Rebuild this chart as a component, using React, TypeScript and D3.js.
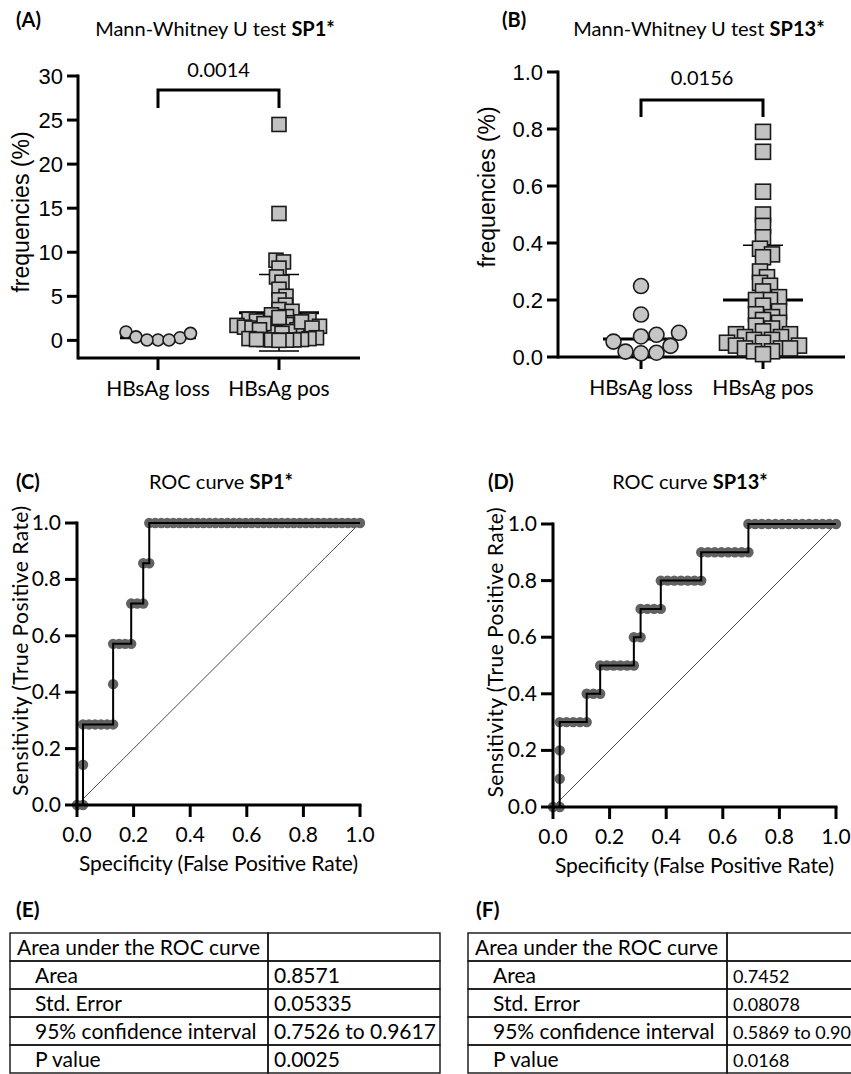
import React from 'react';
import * as d3 from 'd3';

// ---------------- DATA ----------------
const groupLabels = ['HBsAg loss', 'HBsAg pos'];

const sp1Loss = [0.05, 0.95, 0.3, 0.8, 0.05, 0.4, 0.05];
const sp1Pos = [
  24.5, 14.4, 9.1, 8.9, 8.2, 7.2, 6.6, 5.8, 5.0, 4.6,
  4.0, 3.5, 3.3, 2.9, 2.7, 2.4, 2.2, 2.0, 1.9, 1.8,
  1.7, 1.6, 1.5, 1.4, 1.3, 1.2, 1.1, 1.0, 0.9, 0.8,
  2.6, 2.3, 2.1, 1.9, 1.6, 1.4, 1.2, 0.3, 0.2, 0.2,
  0.1, 0.1, 0.1, 0.05, 0.05, 0.02, 0.0,
];
const sp13Loss = [0.085, 0.015, 0.054, 0.249, 0.149, 0.078, 0.019, 0.039, 0.072, 0.013];
const sp13Pos = [
  0.79, 0.72, 0.58, 0.5, 0.46, 0.42, 0.38, 0.36, 0.35, 0.3,
  0.28, 0.26, 0.25, 0.23, 0.21, 0.2, 0.2, 0.18, 0.16, 0.15,
  0.14, 0.13, 0.12, 0.11, 0.1, 0.09, 0.08, 0.08, 0.07, 0.07,
  0.06, 0.06, 0.05, 0.05, 0.04, 0.04, 0.03, 0.03, 0.03, 0.02,
  0.02, 0.01,
];
const sp1Ticks = [0, 5, 10, 15, 20, 25, 30];
const sp13Ticks = [0, 0.2, 0.4, 0.6, 0.8, 1.0];
const pValueA = '0.0014';
const pValueB = '0.0156';

const rocTicks = [0, 0.2, 0.4, 0.6, 0.8, 1.0];
// ROC curve as unit moves: R = one more false positive, U = one more true positive
const rocCMoves: [string, number][] = [['R', 1], ['U', 2], ['R', 5], ['U', 2], ['R', 3], ['U', 1], ['R', 2], ['U', 1], ['R', 1], ['U', 1], ['R', 35]];
const rocCNeg = 47;
const rocCPos = 7;
const rocDMoves: [string, number][] = [['R', 1], ['U', 3], ['R', 4], ['U', 1], ['R', 2], ['U', 1], ['R', 5], ['U', 1], ['R', 1], ['U', 1], ['R', 3], ['U', 1], ['R', 6], ['U', 1], ['R', 7], ['U', 1], ['R', 13]];
const rocDNeg = 42;
const rocDPos = 10;

const tableRowLabels = ['Area under the ROC curve', 'Area', 'Std. Error', '95% confidence interval', 'P value'];
const tableEValues = ['', '0.8571', '0.05335', '0.7526 to 0.9617', '0.0025'];
const tableFValues = ['', '0.7452', '0.08078', '0.5869 to 0.90', '0.0168'];

// ---------------- HELPERS ----------------
const ARIAL = 'Liberation Sans, Arial, sans-serif';
const CAL = 'Lato, Open Sans, sans-serif';

function swarm(vals: number[], y: (v: number) => number, cx: number, minDist: number) {
  const order = d3.range(vals.length).sort((a, b) => vals[a] - vals[b]);
  const placed: { x: number; y: number }[] = [];
  const xs: number[] = new Array(vals.length);
  for (const i of order) {
    const yy = y(vals[i]);
    let chosen = cx;
    for (let k = 0; k < 400; k++) {
      const offs = k === 0 ? [0] : [k * 0.5, -k * 0.5];
      let ok = false;
      for (const o of offs) {
        const xx = cx + o;
        if (placed.every((p) => Math.hypot(p.x - xx, p.y - yy) >= minDist)) {
          chosen = xx;
          ok = true;
          break;
        }
      }
      if (ok) break;
    }
    xs[i] = chosen;
    placed.push({ x: chosen, y: yy });
  }
  return xs;
}

function rocPoints(moves: [string, number][], nNeg: number, nPos: number) {
  const pts: [number, number][] = [[0, 0]];
  let fp = 0;
  let tp = 0;
  for (const [d, n] of moves) {
    for (let k = 0; k < n; k++) {
      if (d === 'R') fp++;
      else tp++;
      pts.push([fp / nNeg, tp / nPos]);
    }
  }
  return pts;
}

// ---------------- SCATTER PANEL ----------------
function ScatterPanel(props: {
  letter: string; letterX: number; title: string; bold: string; titleX: number;
  loss: number[]; pos: number[]; ticks: number[]; domain: [number, number];
  axisX: number; axisRight: number; yTop: number; yBottom: number;
  catX: [number, number]; fmt: (v: number) => string;
  circleR: number; sq: number; dLoss: number; dPos: number;
  pval: string; pvalY: number; bracketY: number; bracketBottom: number;
  ylabelX: number; ylabelY: number;
}) {
  const p = props;
  const y = d3.scaleLinear().domain(p.domain).range([p.yBottom, p.yTop]);
  const xLoss = swarm(p.loss, y, p.catX[0], p.dLoss);
  const xPos = swarm(p.pos, y, p.catX[1], p.dPos);
  const lossCenter = d3.median(p.loss) as number;
  const posMean = d3.mean(p.pos) as number;
  const posSd = d3.deviation(p.pos) as number;
  const yTopTick = y(p.ticks[p.ticks.length - 1]);
  const c0 = p.catX[0];
  const c1 = p.catX[1];
  return (
    <g>
      <text x={p.letterX} y={27} fontFamily={CAL} fontWeight="bold" fontSize={20}>{p.letter}</text>
      <text x={p.titleX} y={36} fontFamily={CAL} fontSize={20} textAnchor="middle">
        {p.title}<tspan fontWeight="bold">{p.bold}</tspan>
      </text>
      {/* axes */}
      <line x1={p.axisX} x2={p.axisX} y1={yTopTick - 1.5} y2={p.yBottom + 1.5} stroke="#000" strokeWidth={3} />
      <line x1={p.axisX} x2={p.axisRight} y1={p.yBottom} y2={p.yBottom} stroke="#000" strokeWidth={3} />
      {p.ticks.map((t) => (
        <g key={t}>
          <line x1={p.axisX - 11} x2={p.axisX} y1={y(t)} y2={y(t)} stroke="#000" strokeWidth={3} />
          <text x={p.axisX - 15} y={y(t) + 8} textAnchor="end" fontFamily={ARIAL} fontSize={22}>{p.fmt(t)}</text>
        </g>
      ))}
      {p.catX.map((cx, i) => (
        <g key={i}>
          <line x1={cx} x2={cx} y1={p.yBottom} y2={p.yBottom + 12} stroke="#000" strokeWidth={3} />
          <text x={cx} y={p.yBottom + 38} textAnchor="middle" fontFamily={CAL} fontSize={21}>{groupLabels[i]}</text>
        </g>
      ))}
      <text transform={`translate(${p.ylabelX},${p.ylabelY}) rotate(-90)`} textAnchor="middle" fontFamily={ARIAL} fontSize={23}>frequencies (%)</text>
      {/* bracket */}
      <path d={`M${c0},${p.bracketBottom}V${p.bracketY}H${c1}V${p.bracketBottom}`} fill="none" stroke="#000" strokeWidth={3} />
      <text x={(c0 + c1) / 2} y={p.pvalY} textAnchor="middle" fontFamily={CAL} fontSize={20}>{p.pval}</text>
      {/* summary lines */}
      <line x1={c0 - 38} x2={c0 + 38} y1={y(lossCenter)} y2={y(lossCenter)} stroke="#000" strokeWidth={3} />
      <line x1={c1} x2={c1} y1={y(posMean - posSd)} y2={y(posMean + posSd)} stroke="#000" strokeWidth={1.5} />
      <line x1={c1 - 20} x2={c1 + 20} y1={y(posMean + posSd)} y2={y(posMean + posSd)} stroke="#000" strokeWidth={1.5} />
      <line x1={c1 - 20} x2={c1 + 20} y1={y(posMean - posSd)} y2={y(posMean - posSd)} stroke="#000" strokeWidth={1.5} />
      <line x1={c1 - 40} x2={c1 + 40} y1={y(posMean)} y2={y(posMean)} stroke="#000" strokeWidth={3} />
      {p.loss.map((v, i) => (
        <circle key={'l' + i} cx={xLoss[i]} cy={y(v)} r={p.circleR} fill="#c6c6c6" stroke="#1a1a1a" strokeWidth={1.6} />
      ))}
      {p.pos.map((v, i) => (
        <rect key={'p' + i} x={xPos[i] - p.sq / 2} y={y(v) - p.sq / 2} width={p.sq} height={p.sq} fill="#c2c2c2" stroke="#1a1a1a" strokeWidth={1.6} />
      ))}
    </g>
  );
}

// ---------------- ROC PANEL ----------------
function RocPanel(props: {
  letter: string; letterX: number; title: string; bold: string; titleX: number;
  moves: [string, number][]; nNeg: number; nPos: number;
  x0: number; x1: number; y0: number; y1: number; ylabelX: number;
}) {
  const p = props;
  const x = d3.scaleLinear().domain([0, 1]).range([p.x0, p.x1]);
  const y = d3.scaleLinear().domain([0, 1]).range([p.y0, p.y1]);
  const pts = rocPoints(p.moves, p.nNeg, p.nPos);
  const line = d3.line<[number, number]>().x((d) => x(d[0])).y((d) => y(d[1]));
  return (
    <g>
      <text x={p.letterX} y={489} fontFamily={CAL} fontWeight="bold" fontSize={20}>{p.letter}</text>
      <text x={p.titleX} y={489} fontFamily={CAL} fontSize={20} textAnchor="middle">
        {p.title}<tspan fontWeight="bold">{p.bold}</tspan>
      </text>
      <line x1={x(0)} x2={x(1)} y1={y(0)} y2={y(1)} stroke="#000" strokeWidth={0.7} />
      {pts.map((d, i) => (
        <circle key={i} cx={x(d[0])} cy={y(d[1])} r={5.2} fill="#626262" />
      ))}
      <path d={line(pts) as string} fill="none" stroke="#000" strokeWidth={2} />
      <line x1={p.x0} x2={p.x0} y1={y(1) - 1.5} y2={p.y0 + 1.5} stroke="#000" strokeWidth={3} />
      <line x1={p.x0} x2={p.x1 + 1.5} y1={p.y0} y2={p.y0} stroke="#000" strokeWidth={3} />
      {rocTicks.map((t) => (
        <g key={t}>
          <line x1={p.x0 - 12} x2={p.x0} y1={y(t)} y2={y(t)} stroke="#000" strokeWidth={3} />
          <text x={p.x0 - 16} y={y(t) + 7} textAnchor="end" fontFamily={CAL} fontSize={21}>{d3.format('.1f')(t)}</text>
          <line x1={x(t)} x2={x(t)} y1={p.y0} y2={p.y0 + 12} stroke="#000" strokeWidth={3} />
          <text x={x(t)} y={p.y0 + 37} textAnchor="middle" fontFamily={CAL} fontSize={21}>{d3.format('.1f')(t)}</text>
        </g>
      ))}
      <text x={(p.x0 + p.x1) / 2} y={p.y0 + 66} textAnchor="middle" fontFamily={CAL} fontSize={21} textLength={279}>Specificity (False Positive Rate)</text>
      <text transform={`translate(${p.ylabelX},${(p.y0 + p.y1) / 2 - 13}) rotate(-90)`} textAnchor="middle" fontFamily={CAL} fontSize={21} textLength={290}>Sensitivity (True Positive Rate)</text>
    </g>
  );
}

// ---------------- TABLE ----------------
function AucTable(props: { letter: string; letterX: number; left: number; mid: number; right: number; values: string[]; valueSize: number }) {
  const p = props;
  const top = 933;
  const rowH = 28;
  return (
    <g>
      <text x={p.letterX} y={917} fontFamily={CAL} fontWeight="bold" fontSize={21}>{p.letter}</text>
      {tableRowLabels.map((lab, i) => (
        <g key={i}>
          <rect x={p.left} y={top + i * rowH} width={p.mid - p.left} height={rowH} fill="none" stroke="#111" strokeWidth={1.4} />
          <rect x={p.mid} y={top + i * rowH} width={p.right - p.mid} height={rowH} fill="none" stroke="#111" strokeWidth={1.4} />
          <text x={p.left + (i === 0 ? 7 : 25)} y={top + i * rowH + 22} fontFamily={CAL} fontSize={21}>{lab}</text>
          <text x={p.mid + 6} y={top + i * rowH + 22} fontFamily={CAL} fontSize={p.valueSize}>{p.values[i]}</text>
        </g>
      ))}
    </g>
  );
}

export default function App() {
  return (
    <svg width={851} height={1074} viewBox="0 0 851 1074" style={{ position: 'absolute', left: 0, top: 0, background: '#fff' }}>
      <rect width={851} height={1074} fill="#fff" />
      <ScatterPanel
        letter="(A)" letterX={16} title="Mann-Whitney U test " bold="SP1*" titleX={215}
        loss={sp1Loss} pos={sp1Pos} ticks={sp1Ticks} domain={[-2, 30]}
        axisX={78} axisRight={360} yTop={76} yBottom={358} catX={[158, 279]} fmt={(v) => String(v)}
        circleR={6} sq={14} dLoss={11} dPos={7.5}
        pval={pValueA} pvalY={77} bracketY={90} bracketBottom={108}
        ylabelX={29} ylabelY={212}
      />
      <ScatterPanel
        letter="(B)" letterX={502} title="Mann-Whitney U test " bold="SP13*" titleX={699}
        loss={sp13Loss} pos={sp13Pos} ticks={sp13Ticks} domain={[0, 1]}
        axisX={558} axisRight={845} yTop={72} yBottom={357} catX={[641, 763]} fmt={(v) => d3.format('.1f')(v)}
        circleR={7.5} sq={15} dLoss={15.5} dPos={9}
        pval={pValueB} pvalY={85} bracketY={100} bracketBottom={117}
        ylabelX={495} ylabelY={187}
      />
      <RocPanel
        letter="(C)" letterX={16} title="ROC curve " bold="SP1*" titleX={221}
        moves={rocCMoves} nNeg={rocCNeg} nPos={rocCPos}
        x0={77} x1={360} y0={805} y1={523} ylabelX={28}
      />
      <RocPanel
        letter="(D)" letterX={488} title="ROC curve " bold="SP13*" titleX={690}
        moves={rocDMoves} nNeg={rocDNeg} nPos={rocDPos}
        x0={553} x1={836} y0={807} y1={524} ylabelX={503}
      />
      <AucTable letter="(E)" letterX={16} left={10} mid={268} right={440} values={tableEValues} valueSize={21} />
      <AucTable letter="(F)" letterX={476} left={468} mid={727} right={870} values={tableFValues} valueSize={18} />
    </svg>
  );
}
